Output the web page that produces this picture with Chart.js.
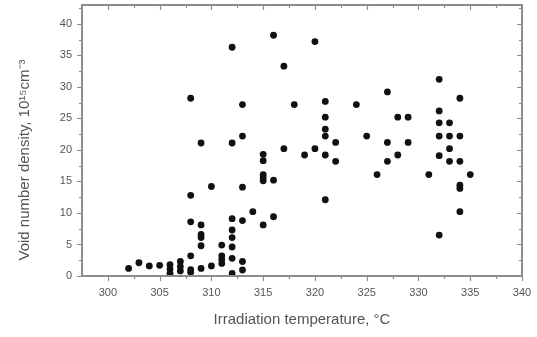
<!DOCTYPE html>
<html>
<head>
<meta charset="utf-8">
<script src="https://cdn.jsdelivr.net/npm/chart.js@4.4.0/dist/chart.umd.min.js"></script>
<style>
  html, body { margin: 0; padding: 0; background: #fff; }
</style>
</head>
<body>
<canvas id="chart" width="537" height="337"></canvas>
<script>
// irradiation temperature (C) and void number density
var temps = [
  302, 303, 304, 305,
  306, 306, 306,
  307, 307, 307,
  308, 308, 308, 308, 308, 308,
  309, 309, 309, 309, 309, 309,
  310, 310,
  311, 311, 311, 311,
  312, 312, 312, 312, 312, 312, 312, 312,
  313, 313, 313, 313, 313, 313,
  314,
  315, 315, 315, 315, 315, 315,
  316, 316, 316,
  317, 317,
  318, 319,
  320, 320,
  321, 321, 321, 321, 321, 321,
  322, 322,
  324, 325, 326,
  327, 327, 327,
  328, 328,
  329, 329,
  331,
  332, 332, 332, 332, 332, 332,
  333, 333, 333, 333,
  334, 334, 334, 334, 334, 334,
  335
];
var densities = [
  1.2, 2.1, 1.6, 1.7,
  1.8, 1.1, 0.4,
  2.3, 1.5, 0.8,
  28.2, 12.8, 8.6, 3.2, 1.0, 0.6,
  21.1, 8.1, 6.6, 6.1, 4.8, 1.2,
  14.2, 1.6,
  4.9, 3.2, 2.6, 2.0,
  36.3, 21.1, 9.1, 7.3, 6.1, 4.6, 2.8, 0.4,
  27.2, 22.2, 14.1, 8.8, 2.3, 0.95,
  10.2,
  19.3, 18.3, 16.1, 15.6, 15.1, 8.1,
  38.2, 15.2, 9.4,
  33.3, 20.2,
  27.2, 19.2,
  37.2, 20.2,
  27.7, 25.2, 23.3, 22.2, 19.2, 12.1,
  21.2, 18.2,
  27.2, 22.2, 16.1,
  29.2, 21.2, 18.2,
  25.2, 19.2,
  25.2, 21.2,
  16.1,
  31.2, 26.2, 24.3, 22.2, 19.1, 6.5,
  24.3, 22.2, 20.2, 18.2,
  28.2, 22.2, 18.2, 14.4, 13.9, 10.2,
  16.1
];

var xTicks = [300, 305, 310, 315, 320, 325, 330, 335, 340];
var xMinorTicks = [302.5, 307.5, 312.5, 317.5, 322.5, 327.5, 332.5, 337.5];
var yTicks = [0, 5, 10, 15, 20, 25, 30, 35, 40];
var yMinorTicks = [2.5, 7.5, 12.5, 17.5, 22.5, 27.5, 32.5, 37.5, 42.5];

var xTitle = "Irradiation temperature, \u00B0C";
var yTitle = "Void number density, 10\u00B9\u2075cm\u207B\u00B3";

var AXIS_COLOR = "#8c8c8c";
var TEXT_COLOR = "#555";
var FONT = "'Liberation Sans', Arial, sans-serif";

var points = [];
for (var i = 0; i < temps.length; i++) {
    points.push({ x: temps[i], y: densities[i] });
}

// box around the plot, ticks out on bottom/left and in on top/right
var frameTicks = {
    id: "frameTicks",
    afterDatasetsDraw: function(chart) {
        var ctx = chart.ctx;
        var a = chart.chartArea;
        var sx = chart.scales.x;
        var sy = chart.scales.y;
        ctx.save();
        ctx.strokeStyle = AXIS_COLOR;
        ctx.lineWidth = 1.2;
        ctx.beginPath();
        function xt(list, len) {
            list.forEach(function(v) {
                var px = Math.round(sx.getPixelForValue(v)) + 0.5;
                ctx.moveTo(px, a.bottom); ctx.lineTo(px, a.bottom + len);
                ctx.moveTo(px, a.top); ctx.lineTo(px, a.top + len);
            });
        }
        function yt(list, len) {
            list.forEach(function(v) {
                var py = Math.round(sy.getPixelForValue(v)) + 0.5;
                ctx.moveTo(a.left, py); ctx.lineTo(a.left - len, py);
                ctx.moveTo(a.right, py); ctx.lineTo(a.right - len, py);
            });
        }
        xt(xTicks, 5);
        xt(xMinorTicks, 3);
        yt(yTicks, 5);
        yt(yMinorTicks, 3);
        ctx.stroke();
        ctx.lineWidth = 2;
        ctx.strokeRect(a.left, a.top, a.right - a.left, a.bottom - a.top);

        // y title sits a bit below the middle of the axis in the original
        ctx.translate(25, 160);
        ctx.rotate(-Math.PI / 2);
        ctx.fillStyle = TEXT_COLOR;
        ctx.font = "15px " + FONT;
        ctx.textAlign = "center";
        ctx.textBaseline = "middle";
        ctx.fillText(yTitle, 0, 0);
        ctx.restore();
    }
};

new Chart(document.getElementById("chart"), {
    type: "scatter",
    data: {
        datasets: [{
            data: points,
            backgroundColor: "#111",
            borderWidth: 0,
            pointRadius: 3.4,
            pointHoverRadius: 3.4
        }]
    },
    options: {
        responsive: false,
        animation: false,
        devicePixelRatio: 1,
        layout: { padding: { top: 5, right: 15, left: 0, bottom: 0 } },
        plugins: {
            legend: { display: false },
            tooltip: { enabled: false }
        },
        scales: {
            x: {
                type: "linear",
                min: 297.5,
                max: 340,
                afterBuildTicks: function(s) {
                    s.ticks = xTicks.map(function(v) { return { value: v }; });
                },
                afterFit: function(s) {
                    s.height = 61;
                    s.paddingLeft = 0;
                    s.paddingRight = 0;
                },
                grid: { display: false, drawTicks: false },
                border: { display: false },
                ticks: {
                    color: TEXT_COLOR,
                    padding: 10,
                    maxRotation: 0,
                    font: { family: FONT, size: 11 }
                },
                title: {
                    display: true,
                    text: xTitle,
                    color: TEXT_COLOR,
                    font: { family: FONT, size: 15 },
                    padding: { top: 0, bottom: 8 }
                }
            },
            y: {
                min: 0,
                max: 43,
                afterBuildTicks: function(s) {
                    s.ticks = yTicks.map(function(v) { return { value: v }; });
                },
                afterFit: function(s) {
                    s.width = 82;
                    s.paddingTop = 0;
                    s.paddingBottom = 0;
                },
                grid: { display: false, drawTicks: false },
                border: { display: false },
                ticks: {
                    color: TEXT_COLOR,
                    padding: 10,
                    font: { family: FONT, size: 11 }
                }
            }
        }
    },
    plugins: [frameTicks]
});
</script>
</body>
</html>
